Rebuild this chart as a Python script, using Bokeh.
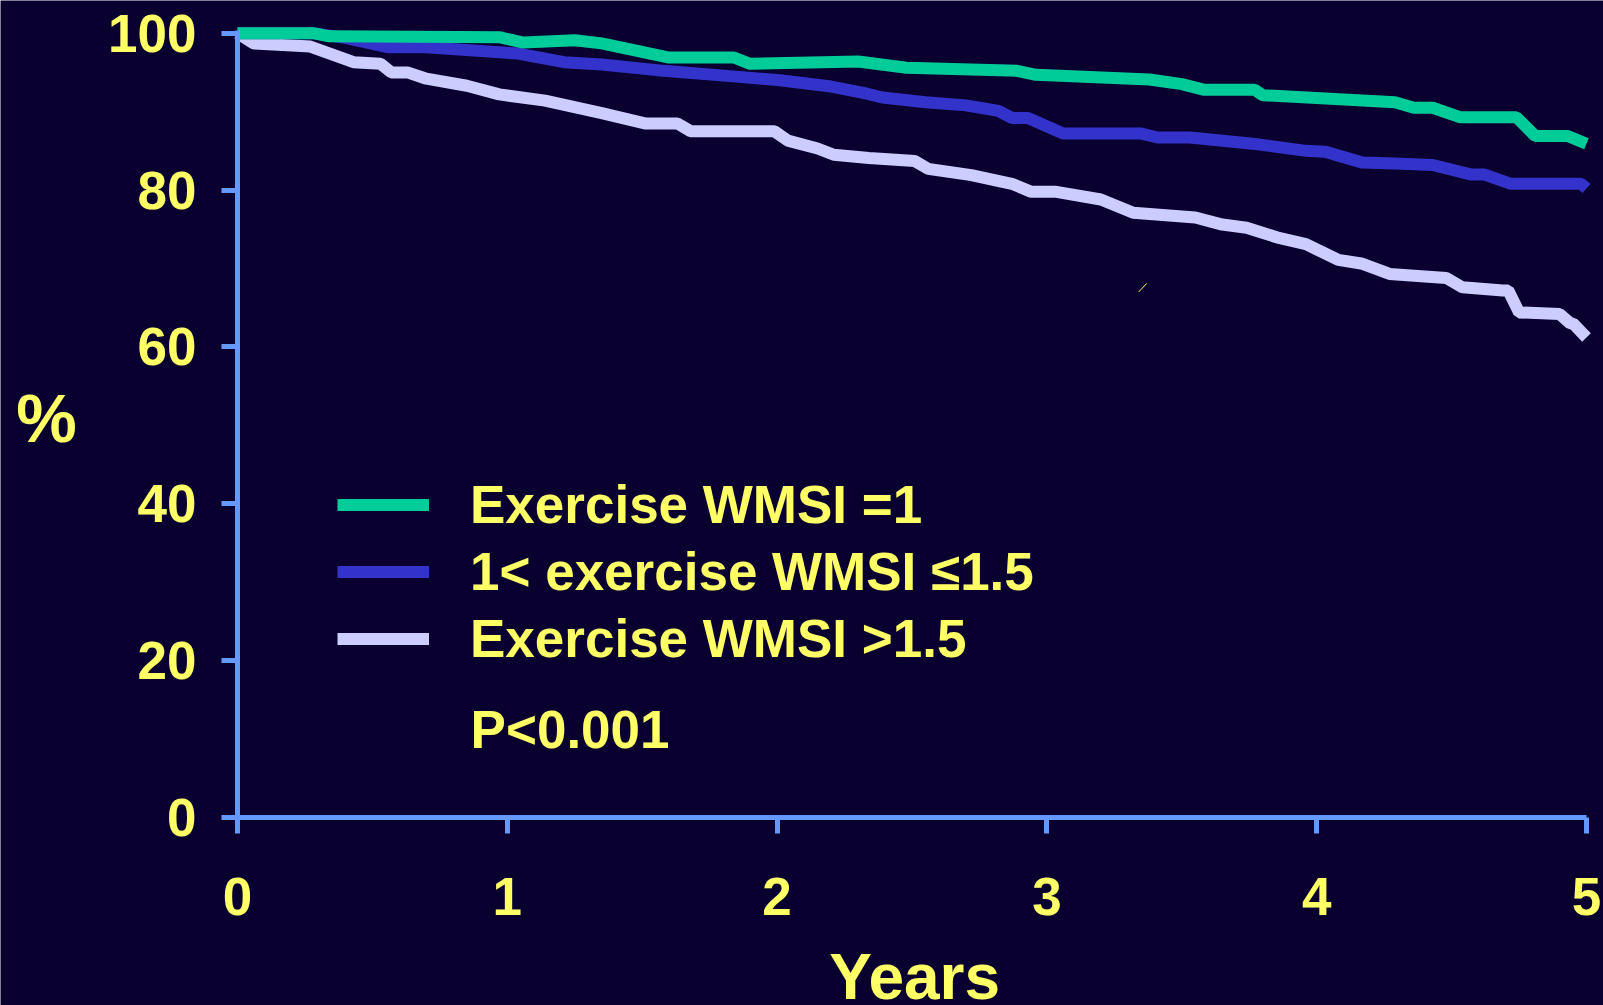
from bokeh.plotting import figure
from bokeh.models import Range1d, FixedTicker, Legend, LegendItem, Label
from bokeh.embed import file_html
from bokeh.resources import INLINE

# ---- data ----
years_g = [0, 0.28, 0.34, 0.97, 1.06, 1.25, 1.35, 1.60, 1.84, 1.90, 2.30, 2.48, 2.89, 2.96,
           3.38, 3.50, 3.58, 3.77, 3.80, 4.29, 4.36, 4.43, 4.53, 4.74, 4.81, 4.93, 5.0]
surv_g = [100, 100, 99.6, 99.5, 98.8, 99.1, 98.7, 96.9, 96.9, 96.1, 96.4, 95.6, 95.2, 94.7,
          94.1, 93.5, 92.8, 92.8, 92.1, 91.2, 90.5, 90.5, 89.3, 89.3, 86.9, 86.9, 85.9]

years_b = [0, 0.28, 0.40, 0.56, 0.70, 1.04, 1.21, 1.35, 1.58, 1.87, 2.01, 2.20, 2.32, 2.39,
           2.55, 2.70, 2.82, 2.87, 2.93, 3.06, 3.35, 3.41, 3.53, 3.79, 3.96, 4.03, 4.17,
           4.29, 4.43, 4.57, 4.62, 4.72, 4.98, 5.0]
surv_b = [100, 100, 99.4, 98.2, 98.2, 97.4, 96.3, 96.0, 95.2, 94.4, 94.0, 93.2, 92.4, 91.8,
          91.2, 90.8, 90.1, 89.2, 89.2, 87.2, 87.2, 86.7, 86.7, 85.8, 85.0, 84.9, 83.5,
          83.4, 83.2, 82.0, 82.0, 80.8, 80.8, 80.2]

years_l = [0, 0.06, 0.27, 0.43, 0.53, 0.57, 0.63, 0.70, 0.85, 0.97, 1.14, 1.35, 1.51, 1.63,
           1.68, 1.99, 2.04, 2.15, 2.21, 2.34, 2.51, 2.56, 2.72, 2.87, 2.94, 3.03, 3.20,
           3.32, 3.55, 3.65, 3.74, 3.86, 3.96, 4.08, 4.17, 4.27, 4.48, 4.54, 4.69, 4.71,
           4.75, 4.90, 4.94, 4.95, 5.0]
surv_l = [100, 98.7, 98.3, 96.3, 96.1, 95.0, 95.0, 94.2, 93.3, 92.2, 91.4, 89.8, 88.5, 88.5,
          87.5, 87.5, 86.3, 85.3, 84.5, 84.1, 83.7, 82.7, 81.9, 80.8, 79.8, 79.8, 78.8,
          77.1, 76.5, 75.6, 75.2, 73.9, 73.1, 71.1, 70.6, 69.3, 68.8, 67.6, 67.2, 67.2,
          64.4, 64.2, 63.0, 63.0, 61.2]

series_labels = ["Exercise WMSI =1", "1< exercise WMSI \u22641.5", "Exercise WMSI >1.5"]
x_ticks = [0, 1, 2, 3, 4, 5]
y_ticks = [0, 20, 40, 60, 80, 100]
x_title = "Years"
y_title = "%"
p_value_text = "P<0.001"

# stray mark visible in the reference
stray_x = [3.34, 3.37]
stray_y = [67.0, 68.1]

# ---- style ----
BG = "#0a0030"
AXIS = "#6699ff"
YEL = "#ffff66"
C_G = "#00cc99"
C_B = "#3333cc"
C_L = "#ccccff"
FONT = "Liberation Sans"

# The plot frame covers the whole page; both axes are pinned at 0 inside it (with bounds),
# so that every text, including the title cut by the bottom edge, can be drawn as in the reference.
p = figure(width=1603, height=1005, output_backend="svg", toolbar_location=None,
           x_range=Range1d(-0.8784, 5.063), y_range=Range1d(-23.97, 104.17),
           min_border=0, min_border_left=0, min_border_right=0,
           min_border_top=0, min_border_bottom=0)
p.background_fill_color = BG
p.border_fill_color = BG
p.outline_line_color = None
p.grid.visible = False

r_l = p.line(years_l, surv_l, line_color=C_L, line_width=12)
r_b = p.line(years_b, surv_b, line_color=C_B, line_width=12)
r_g = p.line(years_g, surv_g, line_color=C_G, line_width=12)
p.line(stray_x, stray_y, line_color=YEL, line_width=1)

for ax in (p.xaxis[0], p.yaxis[0]):
    ax.axis_line_color = AXIS
    ax.axis_line_width = 5
    ax.major_tick_line_color = AXIS
    ax.major_tick_line_width = 5
    ax.major_tick_in = 0
    ax.major_tick_out = 16
    ax.minor_tick_line_color = None
    ax.major_label_text_color = YEL
    ax.major_label_text_font = FONT
    ax.major_label_text_font_style = "bold"
    ax.major_label_text_font_size = "53px"

p.xaxis.ticker = FixedTicker(ticks=x_ticks)
p.yaxis.ticker = FixedTicker(ticks=y_ticks)
p.xaxis.fixed_location = 0
p.yaxis.fixed_location = 0
p.xaxis.bounds = (0, 5)
p.yaxis.bounds = (0, 100.4)
p.xaxis.major_label_standoff = 44
p.yaxis.major_label_standoff = 25

p.add_layout(Label(x=2.51, y=-20.3, text=x_title, text_color=YEL, text_font=FONT,
                   text_font_style="bold", text_font_size="64px",
                   text_align="center", text_baseline="middle"))
p.add_layout(Label(x=-0.708, y=50.9, text=y_title, text_color=YEL, text_font=FONT,
                   text_font_style="bold", text_font_size="68px",
                   text_align="center", text_baseline="middle"))

legend = Legend(items=[LegendItem(label=series_labels[0], renderers=[r_g]),
                       LegendItem(label=series_labels[1], renderers=[r_b]),
                       LegendItem(label=series_labels[2], renderers=[r_l])],
                location=(337, 333), orientation="vertical",
                background_fill_alpha=0, border_line_alpha=0,
                padding=0, margin=0, spacing=0,
                glyph_width=92, glyph_height=67, label_height=67,
                label_standoff=41,
                label_text_color=YEL, label_text_font=FONT,
                label_text_font_style="bold", label_text_font_size="53px")
p.add_layout(legend, "center")

p.add_layout(Label(x=0.864, y=11.2, text=p_value_text, text_color=YEL, text_font=FONT,
                   text_font_style="bold", text_font_size="53px", text_baseline="middle"))

open("out.html", "w").write(file_html(p, INLINE))
